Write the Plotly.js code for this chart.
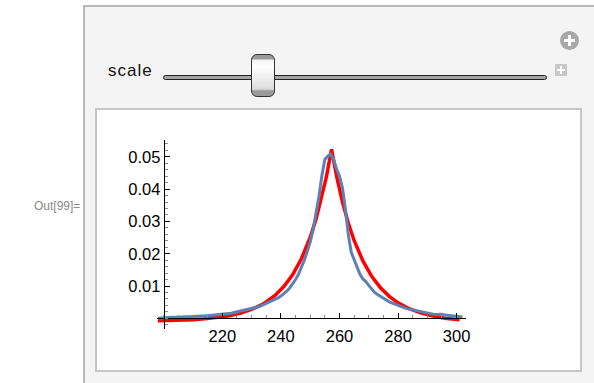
<!DOCTYPE html>
<html>
<head>
<meta charset="utf-8">
<script src="https://cdn.plot.ly/plotly-3.0.1.min.js"></script>
<style>
  html, body { margin:0; padding:0; width:594px; height:383px; overflow:hidden; background:#ffffff; font-family:"Liberation Sans", Arial, sans-serif; }
  #outlabel { position:absolute; left:34px; top:199px; font-size:12px; color:#8a8a8a; }
  #panel { position:absolute; left:83px; top:5px; width:540px; height:400px; background:#f4f4f4; border:2px solid #b8b8b8; box-sizing:border-box; }
  #box { position:absolute; left:95px; top:108px; width:487px; height:264px; background:#ffffff; border:2px solid #c6c6c6; box-sizing:border-box; }
  #scalelbl { position:absolute; left:108px; top:61px; font-size:17px; letter-spacing:1px; color:#111; }
  #track { position:absolute; left:163px; top:75px; width:384px; height:5px; background:#a4a4a4; border:1px solid #222; border-radius:3px; box-sizing:border-box; }
  #thumb { position:absolute; left:251px; top:54px; width:24px; height:43px; border:1.5px solid #333; border-radius:6px; box-sizing:border-box;
           background:linear-gradient(to bottom, #9a9a9a 0px, #9a9a9a 4px, #f4f4f4 5px, #ffffff 12px, #dcdcdc 34px, #9a9a9a 36px, #9a9a9a 43px); }
  #pluscirc { position:absolute; left:560px; top:31px; width:19px; height:19px; border-radius:50%; background:#a8a8a8; }
  #pluscirc:before { content:""; position:absolute; left:4px; top:8px; width:11px; height:3px; background:#fff; }
  #pluscirc:after { content:""; position:absolute; left:8px; top:4px; width:3px; height:11px; background:#fff; }
  #plussq { position:absolute; left:555px; top:64px; width:12px; height:12px; background:#c8c8c8; }
  #plussq:before { content:""; position:absolute; left:2px; top:5px; width:8px; height:2px; background:#fff; }
  #plussq:after { content:""; position:absolute; left:5px; top:2px; width:2px; height:8px; background:#fff; }
  #chart { position:absolute; left:0; top:0; width:594px; height:383px; }
</style>
</head>
<body>
<div id="outlabel">Out[99]=</div>
<div id="panel"></div>
<div id="pluscirc"></div>
<div id="scalelbl">scale</div>
<div id="track"></div>
<div id="thumb"></div>
<div id="plussq"></div>
<div id="box"></div>
<div id="chart"></div>
<script>
// Fitted curve (red)
const fitX = [198, 202, 206, 210, 214, 218, 222, 226, 230, 234, 238, 241, 244, 247, 250, 252, 254, 255.5, 257.3, 259, 261, 263, 265, 268, 271, 274, 277, 280, 284, 288, 292, 296, 301];
const fitY = [-0.00078, -0.00070, -0.00058, -0.00040, -0.00016, 0.00020, 0.00075, 0.00155, 0.00274, 0.00450, 0.00710, 0.00985, 0.01350, 0.01845, 0.02505, 0.03070, 0.03750, 0.04360, 0.05230, 0.04410, 0.03610, 0.02950, 0.02410, 0.01775, 0.01300, 0.00945, 0.00680, 0.00480, 0.00290, 0.00160, 0.00070, 0.00005, -0.00045];

// Measured data (blue)
const dataX = [198,199,200,201,202,203,204,205,206,207,208,209,210,211,212,213,214,215,216,217,218,219,220,221,222,223,224,225,226,227,228,229,230,231,232,233,234,235,236,237,238,239,240,241,242,243,244,245,246,247,248,249,250,251,252,253,254,255,256,257,258,259,260,261,262,263,264,265,266,267,268,269,270,271,272,273,274,275,276,277,278,279,280,281,282,283,284,285,286,287,288,289,290,291,292,293,294,295,296,297,298,299,300,301,302];
const dataY = [0.0000,0.0001,0.0002,0.0002,0.0003,0.0003,0.0003,0.0004,0.0004,0.0005,0.0005,0.0005,0.0006,0.0006,0.0006,0.0007,0.0007,0.0008,0.0008,0.0009,0.0010,0.0011,0.0012,0.0012,0.0014,0.0016,0.0018,0.0020,0.0021,0.0024,0.0027,0.0029,0.0030,0.0032,0.0035,0.0038,0.0042,0.0047,0.0051,0.0054,0.0058,0.0063,0.0069,0.0076,0.0084,0.0094,0.0106,0.0120,0.0136,0.0156,0.0180,0.0207,0.0236,0.0274,0.0322,0.0378,0.0442,0.0492,0.0502,0.0508,0.0492,0.0462,0.0440,0.0405,0.0340,0.0260,0.0205,0.0183,0.0155,0.0136,0.0122,0.0114,0.0102,0.0091,0.0080,0.0074,0.0069,0.0063,0.0057,0.0051,0.0047,0.0043,0.0040,0.0036,0.0033,0.0030,0.0028,0.0025,0.0023,0.0021,0.0019,0.0017,0.0015,0.0014,0.0013,0.0012,0.0012,0.0013,0.0010,0.0009,0.0009,0.0008,0.0008,0.0005,0.0004];

const xTickVals = [220, 240, 260, 280, 300];
const xTickText = ["220", "240", "260", "280", "300"];
const yTickVals = [0.01, 0.02, 0.03, 0.04, 0.05];
const yTickText = ["0.01", "0.02", "0.03", "0.04", "0.05"];

const xRange = [197.7, 303.2];
const yRange = [-0.0033, 0.0552];
const xOrigin = 200, yOrigin = 0;

const traces = [
  { x: fitX, y: fitY, type: 'scatter', mode: 'lines', line: { color: '#ff0000', width: 3.5 }, hoverinfo: 'skip' },
  { x: dataX, y: dataY, type: 'scatter', mode: 'lines', line: { color: '#5e81b5', width: 3 }, hoverinfo: 'skip' }
];

const layout = {
  width: 594, height: 383,
  margin: { l: 157, r: 128, t: 140, b: 54, pad: 0 },
  paper_bgcolor: 'rgba(0,0,0,0)',
  plot_bgcolor: 'rgba(0,0,0,0)',
  showlegend: false,
  font: { family: '"Liberation Sans", Arial, sans-serif', color: '#000', size: 16.5 },
  xaxis: {
    range: xRange, domain: [0, 1],
    anchor: 'free', position: (yOrigin - yRange[0]) / (yRange[1] - yRange[0]),
    showgrid: false, zeroline: false, showline: true, linecolor: '#000', linewidth: 1,
    tickmode: 'array', tickvals: xTickVals, ticktext: xTickText,
    ticks: 'inside', ticklen: 5, tickwidth: 1, tickcolor: '#000',
    ticklabelstandoff: 3,
    minor: { dtick: 5, tick0: 0, ticks: 'inside', ticklen: 3, tickwidth: 1, tickcolor: '#888', showgrid: false },
    tickfont: { size: 16.5, color: '#000' }
  },
  yaxis: {
    range: yRange, domain: [0, 1],
    anchor: 'free', position: (xOrigin - xRange[0]) / (xRange[1] - xRange[0]),
    showgrid: false, zeroline: false, showline: true, linecolor: '#000', linewidth: 1,
    tickmode: 'array', tickvals: yTickVals, ticktext: yTickText,
    ticks: 'inside', ticklen: 5, tickwidth: 1, tickcolor: '#000',
    minor: { dtick: 0.002, tick0: 0, ticks: 'inside', ticklen: 3, tickwidth: 1, tickcolor: '#888', showgrid: false },
    tickfont: { size: 16.5, color: '#000' }
  }
};

Plotly.newPlot('chart', traces, layout, { staticPlot: true, displayModeBar: false });
</script>
</body>
</html>
